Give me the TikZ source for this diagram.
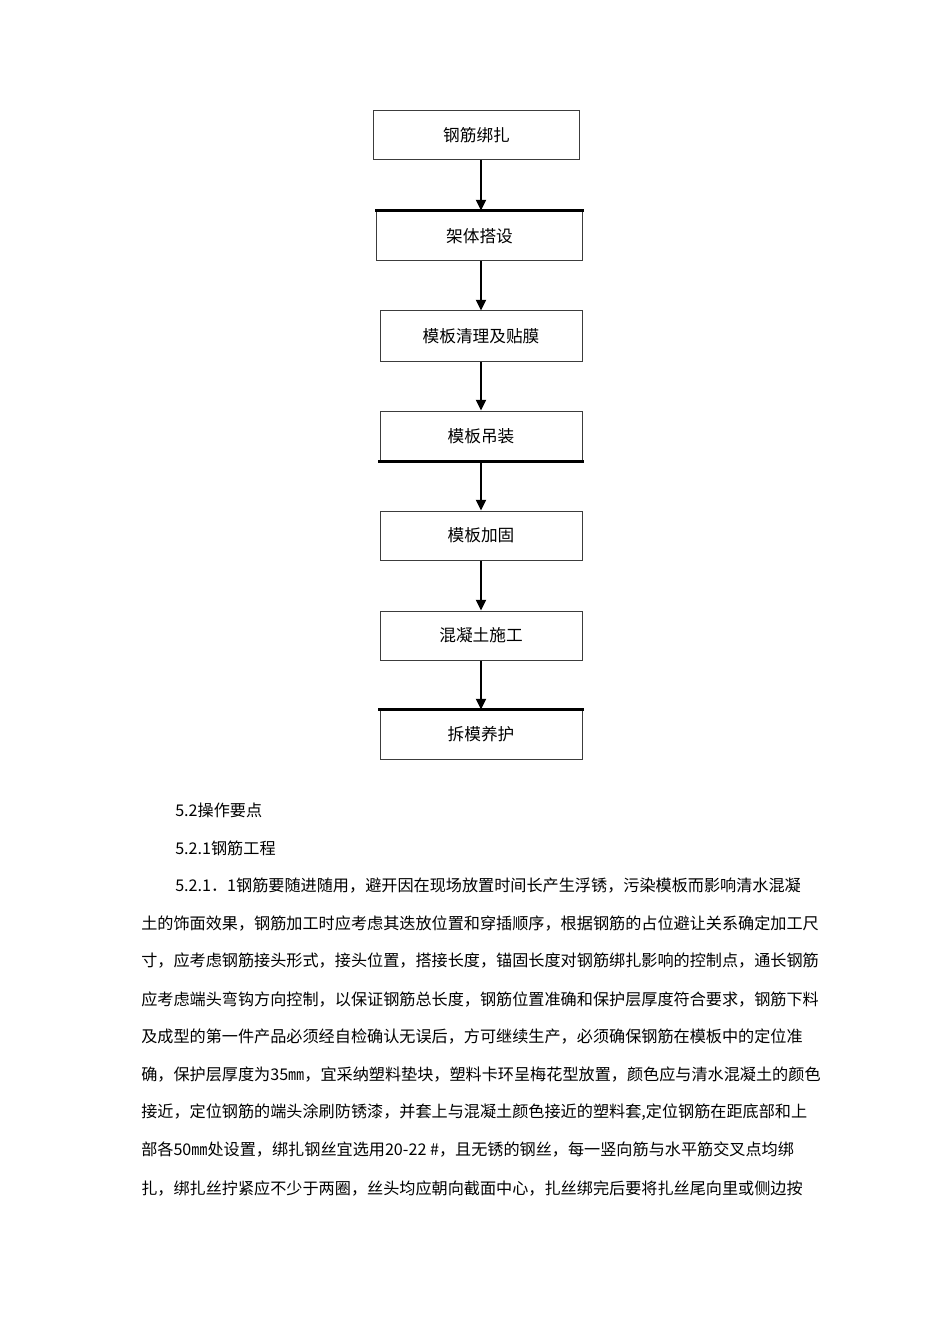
\documentclass[tikz,border=0pt]{standalone}
\usepackage{fontspec}
\newfontfamily\cjk{Noto Sans CJK SC}
\usetikzlibrary{arrows.meta}

\tikzset{
  stepbox/.style={draw={rgb,255:red,60;green,60;blue,60}, line width=0.75pt, minimum width=151.5pt, minimum height=37.5pt, inner sep=0pt, font=\cjk\fontsize{12.5}{14}\selectfont},
  flowarrow/.style={line width=1.5pt, -{Triangle[length=8pt,width=7.5pt]}},
  thickedge/.style={line width=2pt, line cap=rect},
  textline/.style={anchor=west, inner sep=0pt, font=\cjk\fontsize{12.1}{14}\selectfont}
}

\begin{document}
\begin{tikzpicture}[x=0.75pt,y=0.75pt,yscale=-1,xscale=1]
\useasboundingbox (0,0) rectangle (950,1344);

% flow chart
\node [stepbox, minimum width=154.5pt, minimum height=36.75pt] (b1) at (476.5,135) {钢筋绑扎};
\node [stepbox, minimum width=154.5pt] (b2) at (479.5,236) {架体搭设};
\node [stepbox] (b3) at (481,336) {模板清理及贴膜};
\node [stepbox] (b4) at (481,436) {模板吊装};
\node [stepbox, minimum height=36.75pt] (b5) at (481,535.5) {模板加固};
\node [stepbox, minimum height=36.75pt] (b6) at (481,635.5) {混凝土施工};
\node [stepbox, minimum height=36.75pt] (b7) at (481,734.5) {拆模养护};
\coordinate (axis) at (481,0);

% heavier edges
\draw [thickedge] (b2.north west) -- (b2.north east);
\draw [thickedge] (b4.south west) -- (b4.south east);
\draw [thickedge] (b7.north west) -- (b7.north east);

% arrows
\draw [flowarrow] (b1.south -| axis) -- (b2.north -| axis);
\draw [flowarrow] (b2.south -| axis) -- (b3.north -| axis);
\draw [flowarrow] (b3.south -| axis) -- (b4.north -| axis);
\draw [flowarrow] (b4.south -| axis) -- (b5.north -| axis);
\draw [flowarrow] (b5.south -| axis) -- (b6.north -| axis);
\draw [flowarrow] (b6.south -| axis) -- (b7.north -| axis);

% body text
\node [textline] (h1) at (175,810) {5.2操作要点};
\node [textline] (h2) at (175,848) {5.2.1钢筋工程};
\node [textline] (p1) at (175,886) {5.2.1．1钢筋要随进随用，避开因在现场放置时间长产生浮锈，污染模板而影响清水混凝};
\node [textline] (p2) at (141,924) {土的饰面效果，钢筋加工时应考虑其迭放位置和穿插顺序，根据钢筋的占位避让关系确定加工尺};
\node [textline] (p3) at (141,961) {寸，应考虑钢筋接头形式，接头位置，搭接长度，锚固长度对钢筋绑扎影响的控制点，通长钢筋};
\node [textline] (p4) at (141,999) {应考虑端头弯钩方向控制，以保证钢筋总长度，钢筋位置准确和保护层厚度符合要求，钢筋下料};
\node [textline] (p5) at (141,1037) {及成型的第一件产品必须经自检确认无误后，方可继续生产，必须确保钢筋在模板中的定位准};
\node [textline] (p6) at (141,1075) {确，保护层厚度为35㎜，宜采纳塑料垫块，塑料卡环呈梅花型放置，颜色应与清水混凝土的颜色};
\node [textline] (p7) at (141,1112) {接近，定位钢筋的端头涂刷防锈漆，并套上与混凝土颜色接近的塑料套,定位钢筋在距底部和上};
\node [textline] (p8) at (141,1150) {部各50㎜处设置，绑扎钢丝宜选用20-22 \#，且无锈的钢丝，每一竖向筋与水平筋交叉点均绑};
\node [textline] (p9) at (141,1188) {扎，绑扎丝拧紧应不少于两圈，丝头均应朝向截面中心，扎丝绑完后要将扎丝尾向里或侧边按};

\end{tikzpicture}
\end{document}
